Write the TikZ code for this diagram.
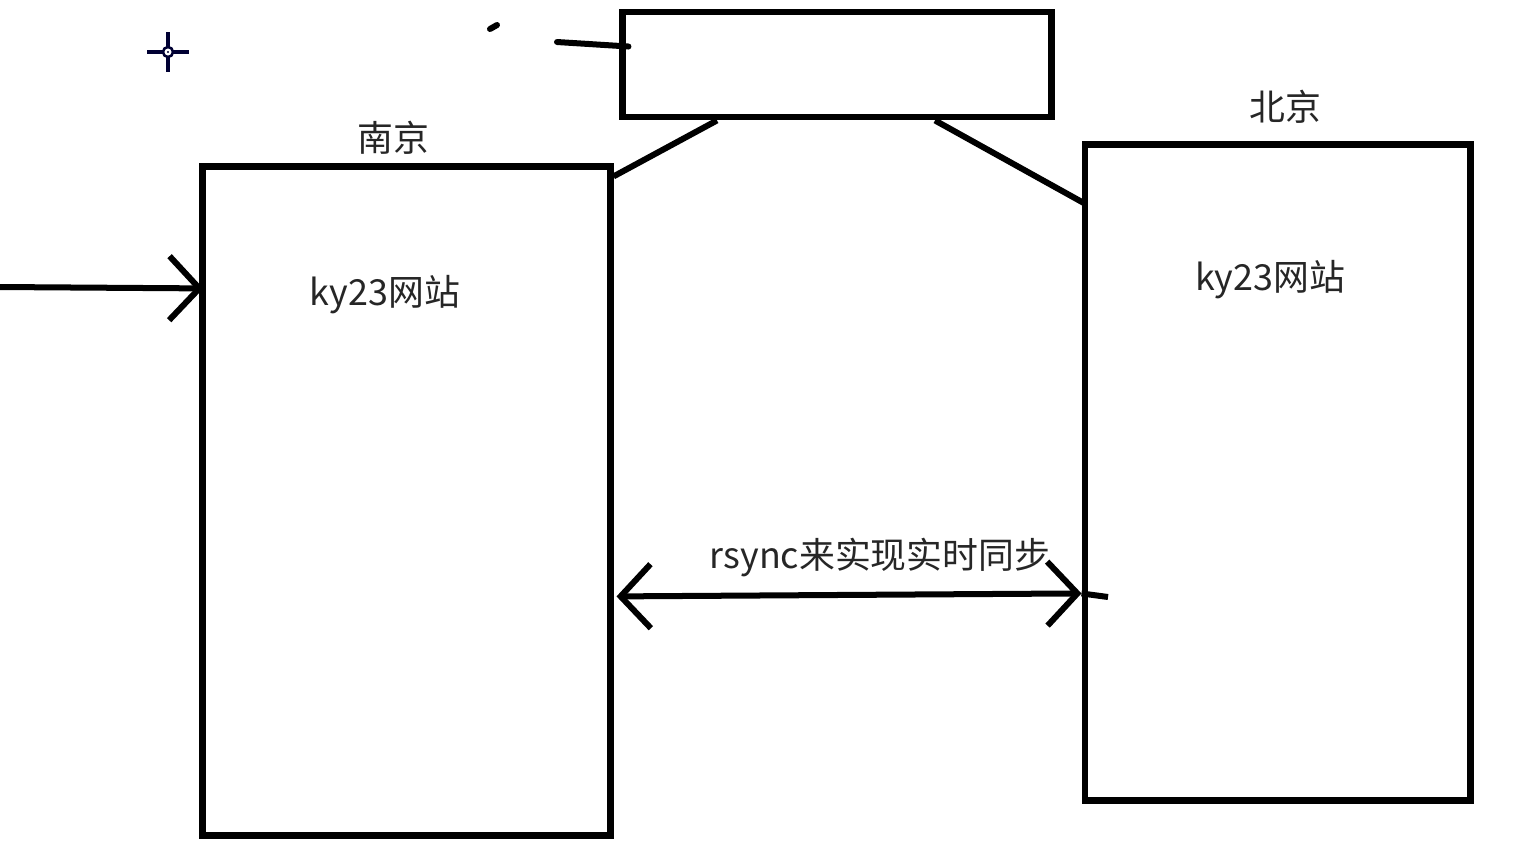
\documentclass[tikz,border=0pt]{standalone}
\usepackage{fontspec}
\setmainfont{Noto Sans CJK SC}
\usetikzlibrary{arrows.meta,calc}

\begin{document}
\begin{tikzpicture}[x=0.01cm, y=-0.01cm, line width=0.6mm, >={Straight Barb[length=3mm,width=6.4mm]},
    every node/.style={font=\fontsize{10.2pt}{12pt}\selectfont, text=black!85},
    site/.style={draw, line width=0.68mm, rectangle, inner sep=0pt}]
        \useasboundingbox (0,0) rectangle (1525,857);
        \node[site, minimum width=4.07cm, minimum height=6.68cm] (nanjing) at (406.5,501) {};
        \node[site, minimum width=3.85cm, minimum height=6.55cm] (beijing) at (1277.5,472.5) {};
        \node[site, minimum width=4.28cm, minimum height=1.05cm] (top) at (837,64.5) {};
        \node (nj) at (393,138) {南京};
        \node (bj) at (1285,107) {北京};
        \node (njsite) at (385,295) {ky23网站};
        \node (bjsite) at (1270,280) {ky23网站};
        \node (sync) at (880,557) {rsync来实现实时同步};
        \coordinate (in) at (0,287);
        \coordinate (feed) at (557,42);
        \coordinate (over) at (1108,597);
        \draw (top.south) ++(-120,0) -- ($(nanjing.north east)+(0,13)$);
        \draw ($(top.south)+(98,0)$) -- ($(beijing.north west)+(3,62)$);
        \draw[->] (in) -- ($(nanjing.north west)+(4,125)$);
        \draw[<->] ($(nanjing.north east)+(3,433)$) -- ($(beijing.north west)+(0,452)$);
        \draw (beijing.north west) ++(0,452) -- (over);
        \draw[line cap=round] (feed) -- ($(top.west)+(9,-18)$);
        \draw[line cap=round] (490,29) -- (497,25);
        % cursor
        \begin{scope}[line width=0.35mm, draw=blue!20!black]
        \draw (147,52) -- (163,52) (173,52) -- (189,52);
        \draw (168,32) -- (168,47) (168,57) -- (168,72);
        \draw[line width=0.25mm] (168,52) circle (5);
        \fill[blue!20!black] (168,52) circle (1.2);
        \end{scope}
    \end{tikzpicture}
\end{document}
